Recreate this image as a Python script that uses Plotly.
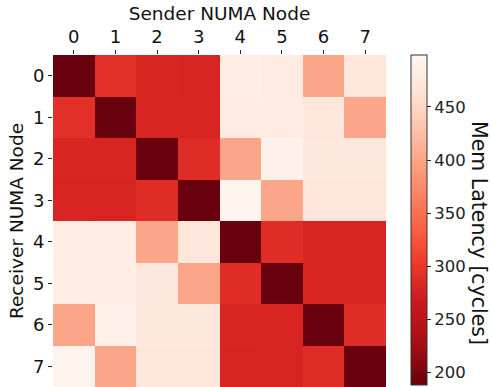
import plotly.graph_objects as go

# Memory latency (cycles) between NUMA nodes: rows = receiver, cols = sender
nodes = [0, 1, 2, 3, 4, 5, 6, 7]
latency = [
    [189, 291, 280, 279, 486, 481, 401, 471],
    [291, 189, 280, 280, 481, 481, 471, 401],
    [280, 280, 189, 288, 401, 493, 473, 473],
    [279, 279, 288, 189, 497, 401, 471, 471],
    [486, 483, 401, 471, 189, 288, 279, 279],
    [486, 483, 473, 401, 288, 189, 280, 279],
    [401, 490, 473, 473, 280, 279, 189, 288],
    [495, 401, 471, 471, 279, 279, 288, 189],
]
cbar_ticks = [200, 250, 300, 350, 400, 450]

# Reds colour ramp, dark at the low end
reds = ["#67000d", "#a50f15", "#cb181d", "#ef3b2c", "#fb6a4a",
        "#fc9272", "#fcbba1", "#fee0d2", "#fff5f0"]
colorscale = [[i / (len(reds) - 1), c] for i, c in enumerate(reds)]

FONT = "DejaVu Sans"

fig = go.Figure(go.Heatmap(
    z=latency, x=nodes, y=nodes,
    colorscale=colorscale, zmin=188, zmax=499,
    xgap=0, ygap=0,
    colorbar=dict(
        x=1.075, xanchor="left", xref="paper", xpad=0,
        y=1, yanchor="top", ypad=0, len=330, lenmode="pixels",
        thickness=16, thicknessmode="pixels",
        outlinewidth=1, outlinecolor="#333",
        ticks="outside", ticklen=4, tickcolor="#222",
        tickvals=cbar_ticks,
        tickfont=dict(family=FONT, size=16.5, color="#222"),
    ),
))

fig.update_layout(
    width=492, height=387,
    margin=dict(l=53, r=106, t=55, b=0),
    paper_bgcolor="white", plot_bgcolor="white",
    font=dict(family=FONT, color="#111"),
    xaxis=dict(
        side="top", tickvals=nodes, range=[-0.5, 7.5],
        ticks="outside", ticklen=4, tickcolor="#222",
        tickfont=dict(family=FONT, size=18, color="#111"),
        title=dict(text="Sender NUMA Node", font=dict(family=FONT, size=18.5, color="#111"), standoff=0),
        showgrid=False, zeroline=False, showline=False,
    ),
    yaxis=dict(
        tickvals=nodes, range=[7.5, -0.5],
        ticks="outside", ticklen=4, tickcolor="#222",
        tickfont=dict(family=FONT, size=18, color="#111"),
        title=dict(text="Receiver NUMA Node", font=dict(family=FONT, size=18.5, color="#111"), standoff=4),
        showgrid=False, zeroline=False, showline=False,
    ),
    annotations=[dict(
        text="Mem Latency [cycles]", textangle=90,
        xref="paper", yref="paper", x=1.279, y=0.464,
        xanchor="center", yanchor="middle", showarrow=False,
        font=dict(family=FONT, size=20.5, color="#111"),
    )],
)

fig.write_html("out.html")
